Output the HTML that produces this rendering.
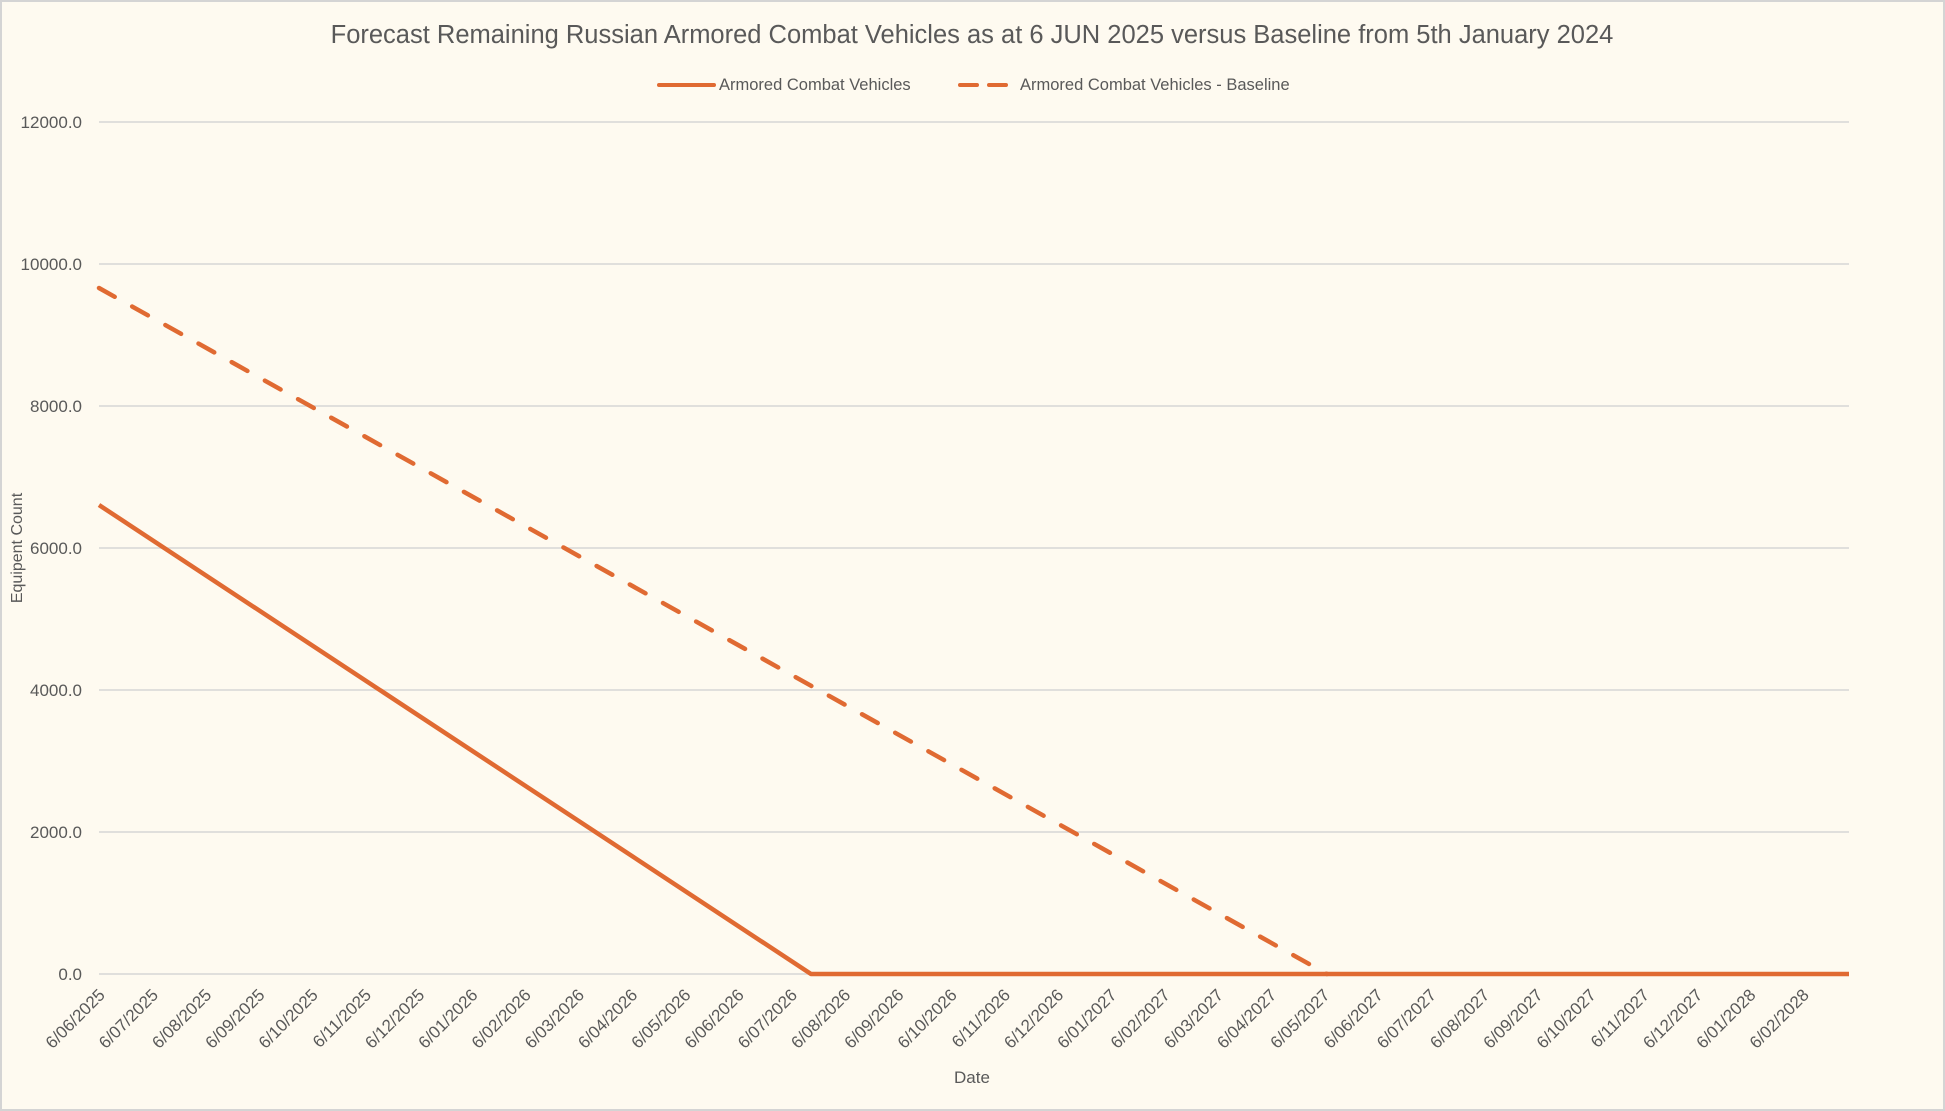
<!DOCTYPE html>
<html><head><meta charset="utf-8"><style>
html,body{margin:0;padding:0;background:#fefaf0;}
svg{display:block;font-family:"Liberation Sans",sans-serif;}
</style></head><body>
<svg width="1945" height="1111" xmlns="http://www.w3.org/2000/svg">
<rect x="1" y="1" width="1943" height="1109" fill="#fefaf0" stroke="#d4d4d4" stroke-width="2"/>
<text x="972" y="43" text-anchor="middle" font-size="25.5" fill="#595959">Forecast Remaining Russian Armored Combat Vehicles as at 6 JUN 2025 versus Baseline from 5th January 2024</text>
<line x1="659" y1="85" x2="714" y2="85" stroke="#e06a32" stroke-width="4" stroke-linecap="round"/>
<text x="719" y="90" font-size="16.5" fill="#595959">Armored Combat Vehicles</text>
<line x1="960" y1="85" x2="1015" y2="85" stroke="#e06a32" stroke-width="4" stroke-linecap="round" stroke-dasharray="17,12"/>
<text x="1020" y="90" font-size="16.5" fill="#595959">Armored Combat Vehicles - Baseline</text>
<g stroke="#d6d6d6" stroke-width="1.5">
<line x1="99" y1="122" x2="1849" y2="122"/>
<line x1="99" y1="264" x2="1849" y2="264"/>
<line x1="99" y1="406" x2="1849" y2="406"/>
<line x1="99" y1="548" x2="1849" y2="548"/>
<line x1="99" y1="690" x2="1849" y2="690"/>
<line x1="99" y1="832" x2="1849" y2="832"/>
<line x1="99" y1="974" x2="1849" y2="974"/>
</g>
<g font-size="17" fill="#595959" text-anchor="end">
<text x="82" y="128">12000.0</text>
<text x="82" y="270">10000.0</text>
<text x="82" y="412">8000.0</text>
<text x="82" y="554">6000.0</text>
<text x="82" y="696">4000.0</text>
<text x="82" y="838">2000.0</text>
<text x="82" y="980">0.0</text>
</g>
<text transform="translate(22,548) rotate(-90)" text-anchor="middle" font-size="16" fill="#595959">Equipent Count</text>
<text x="972" y="1083" text-anchor="middle" font-size="17" fill="#595959">Date</text>
<polyline points="99,505 811,974 1849,974" fill="none" stroke="#e06a32" stroke-width="4.5" stroke-linejoin="round"/>
<line x1="99" y1="288" x2="1327" y2="974" stroke="#e06a32" stroke-width="4.5" stroke-linecap="round" stroke-dasharray="18,20"/>
<g id="xl" font-size="17" fill="#595959" text-anchor="end"></g>
</svg>
<script>
var labels=["6/06/2025","6/07/2025","6/08/2025","6/09/2025","6/10/2025","6/11/2025","6/12/2025","6/01/2026","6/02/2026","6/03/2026","6/04/2026","6/05/2026","6/06/2026","6/07/2026","6/08/2026","6/09/2026","6/10/2026","6/11/2026","6/12/2026","6/01/2027","6/02/2027","6/03/2027","6/04/2027","6/05/2027","6/06/2027","6/07/2027","6/08/2027","6/09/2027","6/10/2027","6/11/2027","6/12/2027","6/01/2028","6/02/2028"];
var g=document.getElementById("xl"),s="";
for(var i=0;i<labels.length;i++){var x=106+i*53.25,y=996;
s+='<text transform="translate('+x+','+y+') rotate(-45)">'+labels[i]+'</text>';}
g.innerHTML=s;
</script>
</body></html>
